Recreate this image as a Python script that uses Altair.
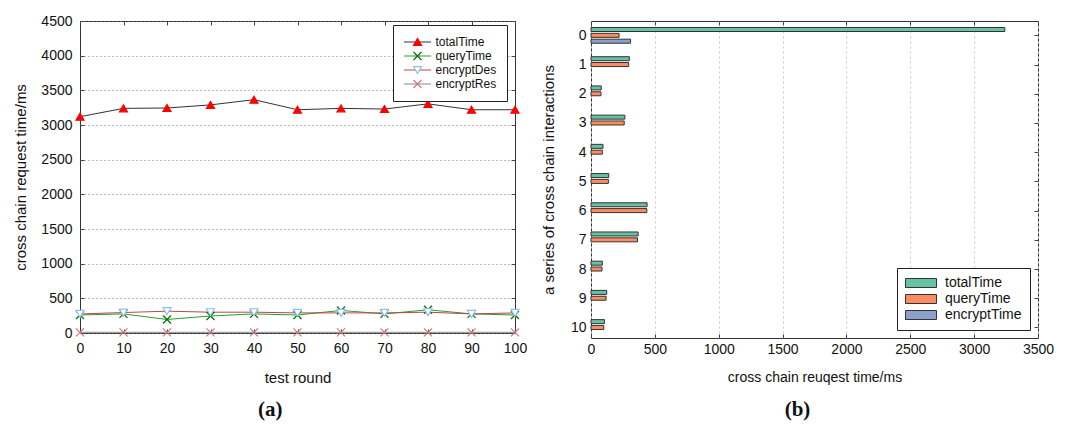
import altair as alt
import pandas as pd

# ---------------- data: panel (a) ----------------
rounds = [0, 10, 20, 30, 40, 50, 60, 70, 80, 90, 100]
total_time = [3120, 3240, 3245, 3290, 3365, 3220, 3240, 3230, 3305, 3220, 3220]
query_time = [260, 275, 195, 245, 275, 260, 325, 275, 335, 275, 260]
encrypt_des = [275, 295, 315, 300, 300, 290, 290, 290, 300, 275, 290]
encrypt_res = [10, 10, 10, 10, 10, 10, 10, 10, 10, 10, 10]
series_a = ["totalTime", "queryTime", "encryptDes", "encryptRes"]
y_ticks_a = [0, 500, 1000, 1500, 2000, 2500, 3000, 3500, 4000, 4500]

# ---------------- data: panel (b) ----------------
interactions = [0, 1, 2, 3, 4, 5, 6, 7, 8, 9, 10]
b_total = [3240, 300, 80, 265, 94, 139, 439, 369, 89, 123, 105]
b_query = [220, 295, 78, 260, 89, 136, 437, 364, 86, 118, 100]
b_encrypt = [310, None, None, None, None, None, None, None, None, None, None]
series_b = ["totalTime", "queryTime", "encryptTime"]
x_ticks_b = [0, 500, 1000, 1500, 2000, 2500, 3000, 3500]

rows = []
for name, vals in zip(series_a, [total_time, query_time, encrypt_des, encrypt_res]):
    for r, v in zip(rounds, vals):
        rows.append({"round": r, "value": v, "series": name})
df_a = pd.DataFrame(rows)

rows = []
for name, vals in zip(series_b, [b_total, b_query, b_encrypt]):
    for c, v in zip(interactions, vals):
        if v is not None:
            rows.append({"cat": c, "value": v, "series": name})
df_b = pd.DataFrame(rows)

FONT = "Liberation Sans"
TXT = "#111111"


def inner_ticks(orient, values):
    # axis that only draws short ticks pointing into the plot (mirror side)
    return alt.Axis(orient=orient, values=values, labels=False, title=None, grid=False,
                    domain=False, ticks=True, tickSize=4, offset=-4, tickColor="#444")


# ---------------- panel (a) ----------------
line_colors = ["#333333", "#2f9a2f", "#b44a4a", "#8a8a8a"]
marker_strokes = ["#ff0000", "#006e00", "#8fc0ec", "#c87a7a"]
marker_fills = ["#ff0000", "transparent", "#ffffff", "transparent"]
xshape = "M-1,-1L1,1M-1,1L1,-1"
marker_shapes = ["triangle-up", xshape, "triangle-down", xshape]
mdomain = ["m_" + s for s in series_a]

x_a = alt.X("round:Q", scale=alt.Scale(domain=[0, 100], nice=False),
            axis=alt.Axis(values=rounds, format="d", title="test round", grid=False, domain=False,
                          ticks=True, tickSize=4, offset=-4, tickColor="#444",
                          labelPadding=8, labelFlush=False, labelOverlap=False,
                          labelFontSize=14, titleFontSize=15,
                          titleFontWeight="normal", titlePadding=15, labelColor=TXT,
                          titleColor=TXT))
y_a = alt.Y("value:Q", scale=alt.Scale(domain=[0, 4500], nice=False),
            axis=alt.Axis(values=y_ticks_a, format="d", title="cross chain request time/ms",
                          grid=True, gridDash=[1, 3], gridColor="#777", gridWidth=1,
                          domain=False, ticks=True, tickSize=4, offset=-4, tickColor="#444",
                          labelPadding=8, labelFlush=False, labelOverlap=False,
                          labelFontSize=14, titleFontSize=15,
                          titleFontWeight="normal", titlePadding=12, labelColor=TXT,
                          titleColor=TXT))

line_legend = alt.Legend(title=None, orient="none", legendX=313, legendY=4,
                         direction="vertical", symbolType="M-3.4,0H3.4", symbolSize=64,
                         symbolStrokeWidth=1.2, symbolOffset=8.5, labelOffset=12,
                         labelFontSize=12, labelColor=TXT, padding=10, rowPadding=0,
                         clipHeight=14, strokeColor="#222", fillColor="#ffffff", zindex=0)
marker_legend = alt.Legend(title=None, orient="none", legendX=313, legendY=4,
                           direction="vertical", symbolSize=64, symbolStrokeWidth=1.2,
                           symbolOffset=8.5, labelOffset=12, labelFontSize=12,
                           labelExpr="''", padding=10, rowPadding=0, clipHeight=14, zindex=1)

lines = alt.Chart(df_a).mark_line(strokeWidth=1).encode(
    stroke=alt.Stroke("series:N", scale=alt.Scale(domain=series_a, range=line_colors),
                      legend=line_legend),
)
points = alt.Chart(df_a).transform_calculate(
    mseries="'m_' + datum.series"
).mark_point(filled=False, strokeWidth=1.2, opacity=1, size=64).encode(
    color=alt.Color("mseries:N", scale=alt.Scale(domain=mdomain, range=marker_strokes),
                    legend=marker_legend),
    fill=alt.Fill("mseries:N", scale=alt.Scale(domain=mdomain, range=marker_fills),
                  legend=marker_legend),
    shape=alt.Shape("mseries:N", scale=alt.Scale(domain=mdomain, range=marker_shapes),
                    legend=marker_legend),
)
main_a = alt.layer(lines, points).encode(x=x_a, y=y_a)

ticks_a = alt.Chart(df_a).mark_point(opacity=0).encode(
    x=alt.X("round:Q", axis=inner_ticks("top", rounds)),
    y=alt.Y("value:Q", axis=inner_ticks("right", y_ticks_a)),
)

panel_a = alt.layer(main_a, ticks_a).resolve_axis(x="independent", y="independent").properties(
    width=435, height=312,
    title=alt.TitleParams("(a)", orient="bottom", font="Liberation Serif", fontSize=21,
                          fontWeight="bold", color=TXT, offset=14, frame="bounds"),
)

# ---------------- panel (b) ----------------
bar_colors = ["#66c2a5", "#fc8d62", "#8da0cb"]
ypos_expr = "datum.cat + 0.2 * (indexof(['totalTime','queryTime','encryptTime'], datum.series) - 1)"

bars = alt.Chart(df_b).transform_calculate(ypos=ypos_expr).mark_bar(
    orient="horizontal", size=4, stroke="#333333", strokeWidth=1
).encode(
    x=alt.X("value:Q", stack=None, scale=alt.Scale(domain=[0, 3500], nice=False),
            axis=alt.Axis(values=x_ticks_b, format="d", title="cross chain reuqest time/ms",
                          grid=True, gridDash=[2, 3], gridColor="#c8c8c8", domain=False,
                          ticks=True, tickSize=4, offset=-4, tickColor="#444",
                          labelPadding=4, labelFlush=False, labelOverlap=False,
                          labelFontSize=14, titleFontSize=14,
                          titleFontWeight="normal", titlePadding=14, labelColor=TXT,
                          titleColor=TXT)),
    y=alt.Y("ypos:Q", scale=alt.Scale(domain=[-0.32, 10.19], reverse=True, nice=False, zero=False),
            axis=alt.Axis(values=interactions, format="d", title="a series of cross chain interactions",
                          grid=False, domain=False, ticks=False, labelPadding=5,
                          labelFlush=False, labelOverlap=False,
                          labelFontSize=14, titleFontSize=15, titleFontWeight="normal",
                          titlePadding=14, labelColor=TXT, titleColor=TXT)),
    color=alt.Color("series:N", scale=alt.Scale(domain=series_b, range=bar_colors),
                    legend=alt.Legend(title=None, orient="bottom-right", offset=8,
                                      symbolType="M-3.1,-0.9H3.1V0.9H-3.1Z", symbolSize=100,
                                      symbolStrokeColor="#333333", symbolStrokeWidth=1,
                                      symbolOpacity=1, symbolOffset=9, labelOffset=17,
                                      labelFontSize=14, labelColor=TXT, padding=8,
                                      rowPadding=2, strokeColor="#222", fillColor="#ffffff")),
)

ticks_b = alt.Chart(df_b).transform_calculate(ypos=ypos_expr).mark_point(opacity=0).encode(
    x=alt.X("value:Q", axis=inner_ticks("top", x_ticks_b)),
    y=alt.Y("ypos:Q", axis=inner_ticks("right", interactions)),
)

panel_b = alt.layer(bars, ticks_b).resolve_axis(x="independent", y="independent").properties(
    width=447, height=317,
    title=alt.TitleParams("(b)", orient="bottom", font="Liberation Serif", fontSize=21,
                          fontWeight="bold", color=TXT, offset=15, frame="bounds"),
)

chart = alt.hconcat(panel_a, panel_b, spacing=76, bounds="flush").resolve_scale(
    color="independent", fill="independent", shape="independent", stroke="independent"
).properties(
    padding={"left": 5, "top": 5, "right": 5, "bottom": 2}
).configure(
    font=FONT,
).configure_view(
    stroke="#333333", strokeWidth=1
)

chart.save("out.html", embed_options={"renderer": "svg", "actions": False})
